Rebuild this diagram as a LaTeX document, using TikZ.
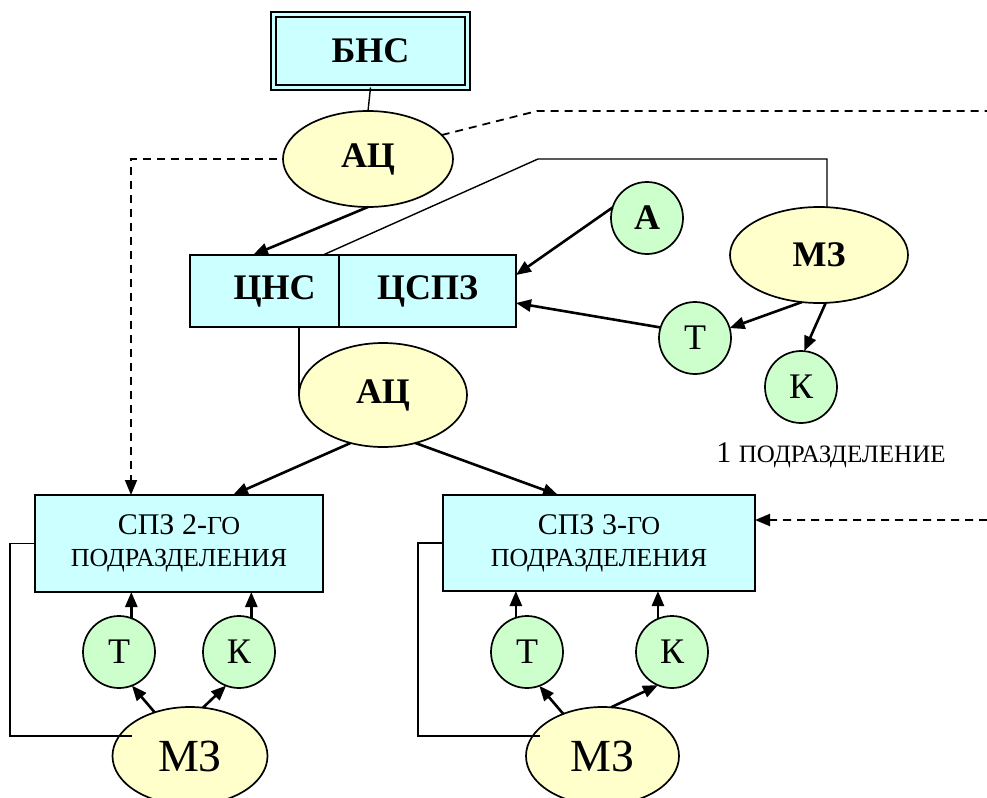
\documentclass[tikz,border=0pt]{standalone}
\usepackage{fontspec}
\setmainfont{Liberation Serif}
\usetikzlibrary{shapes.geometric,arrows.meta}
\definecolor{boxcyan}{HTML}{CCFFFF}
\definecolor{ovalyellow}{HTML}{FFFFCC}
\definecolor{discgreen}{HTML}{CCFFCC}
\newcommand{\capsize}{\fontsize{26bp}{32bp}\selectfont}
\begin{document}
\begin{tikzpicture}[x=1bp,y=-1bp,
  every node/.style={inner sep=0pt, outer sep=0pt},
  cbox/.style={rectangle, draw, line width=1.7bp, fill=boxcyan},
  oval/.style={ellipse, draw, line width=1.7bp, fill=ovalyellow},
  disc/.style={circle, draw, line width=1.7bp, fill=discgreen, minimum size=72bp},
  boldlbl/.style={font=\fontsize{36bp}{40bp}\selectfont\bfseries},
  plainlbl/.style={font=\fontsize{36bp}{40bp}\selectfont},
  sublbl/.style={align=center, font=\fontsize{30bp}{32bp}\selectfont},
  link/.style={line width=1.4bp},
  arr/.style={line width=2.6bp, -{Triangle[length=15bp,width=12bp]}},
  dasharr/.style={line width=1.8bp, dash pattern=on 8bp off 6bp, -{Triangle[length=15bp,width=12bp]}},
  dashlink/.style={line width=1.8bp, dash pattern=on 8bp off 6bp}
]
\useasboundingbox (0,0) rectangle (987,798);

% top level
\node[cbox, boldlbl, line width=1.8bp, double=boxcyan, double distance=2.5bp,
      minimum width=194bp, minimum height=73bp] (bns) at (370.5,51) {БНС};
\node[oval, boldlbl, minimum width=170bp, minimum height=96bp] (ac1) at (368,159) {АЦ};

% central block
\node[cbox, boldlbl, minimum width=149bp, minimum height=72bp] (cns) at (264.5,291) {\hspace*{20bp}ЦНС};
\node[cbox, boldlbl, minimum width=177bp, minimum height=72bp] (cspz) at (427.5,291) {ЦСПЗ};
\node[oval, boldlbl, minimum width=168bp, minimum height=104bp] (ac2) at (383,395) {АЦ};

% subdivision 1
\node[disc, boldlbl] (a1) at (647,218) {А};
\node[oval, boldlbl, minimum width=178bp, minimum height=96bp] (mz1) at (819,255) {МЗ};
\node[disc, plainlbl] (t1) at (695,338) {Т};
\node[disc, plainlbl] (k1) at (801,387) {К};
\node[font=\fontsize{30bp}{30bp}\selectfont] (sub1) at (831,455) {1 {\fontsize{25bp}{25bp}\selectfont ПОДРАЗДЕЛЕНИЕ}};

% subdivision 2
\node[cbox, sublbl, minimum width=288bp, minimum height=97bp] (spz2) at (179,543.5)
  {СПЗ 2-{\capsize ГО}\\{\capsize ПОДРАЗДЕЛЕНИЯ}};
\node[disc, plainlbl] (t2) at (119,652) {Т};
\node[disc, plainlbl] (k2) at (239,652) {К};
\node[oval, font=\fontsize{46bp}{50bp}\selectfont, minimum width=155bp, minimum height=98bp] (mz2) at (190,756) {МЗ};

% subdivision 3
\node[cbox, sublbl, minimum width=312bp, minimum height=96bp] (spz3) at (599,543)
  {СПЗ 3-{\capsize ГО}\\{\capsize ПОДРАЗДЕЛЕНИЯ}};
\node[disc, plainlbl] (t3) at (527,652) {Т};
\node[disc, plainlbl] (k3) at (672,652) {К};
\node[oval, font=\fontsize{46bp}{50bp}\selectfont, minimum width=153bp, minimum height=98bp] (mz3) at (602.5,756) {МЗ};

% free ends and bends
\coordinate (bendA) at (538,159);
\coordinate (bendB) at (537,111);
\coordinate (edgeTop) at (987,111);
\coordinate (edgeLow) at (987,520);

% links in the upper part
\draw[link] (bns.south) -- (ac1.north);
\draw[arr] (ac1.south) -- ([xshift=63bp]cns.north west);
\draw[link] ([xshift=133bp]cns.north west) -- (bendA) -| ([xshift=8bp]mz1.north);
\draw[arr] (a1.163) -- ([yshift=16bp]cspz.east);
\draw[arr] (t1.163) -- ([yshift=-12bp]cspz.east);
\draw[arr] (mz1.250) -- (t1.16);
\draw[arr] (mz1.278) -- (k1.85);
\draw[link] (ac2.west |- cns.south) -- (ac2.west);
\draw[arr] (ac2.236) -- ([xshift=54bp]spz2.north);
\draw[arr] (ac2.304) -- ([xshift=-41bp]spz3.north);

% dashed lines
\draw[dasharr] ([xshift=-6bp]ac1.west) -| ([xshift=-48bp]spz2.north);
\draw[dashlink] (ac1.18) -- (bendB) -- (edgeTop);
\draw[dasharr] (edgeLow) -- ([yshift=23bp]spz3.east);

% subdivision 2 links
\draw[arr] (t2.70) -- (t2.70 |- spz2.south);
\draw[arr] (k2.70) -- (k2.70 |- spz2.south);
\draw[arr] (mz2.129) -- (t2.291);
\draw[arr] (mz2.75) -- (k2.249);
\draw[link] (spz2.west) -- ++(-25,0) |- ([xshift=-58bp,yshift=20bp]mz2.center);

% subdivision 3 links
\draw[arr] (t3.108) -- (t3.108 |- spz3.south);
\draw[arr] (k3.113) -- (k3.113 |- spz3.south);
\draw[arr] (mz3.133) -- (t3.290);
\draw[arr] (mz3.80) -- (k3.247);
\draw[link] (spz3.west) -- ++(-25,0) |- ([xshift=-63bp,yshift=20bp]mz3.center);
\end{tikzpicture}
\end{document}
